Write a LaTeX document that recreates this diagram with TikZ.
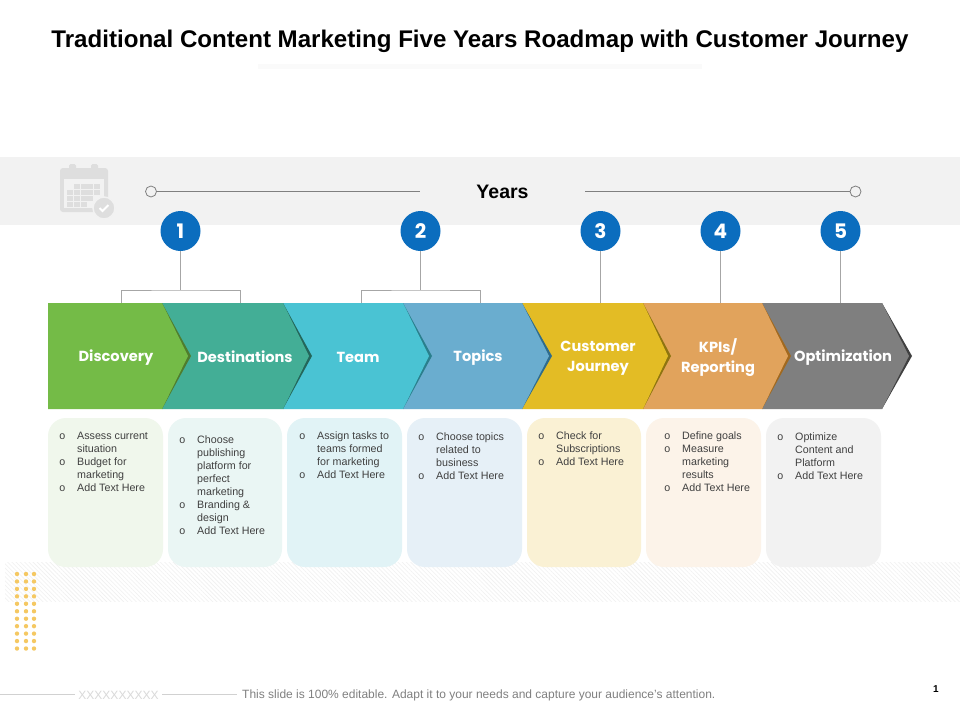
\documentclass[tikz,border=0pt]{standalone}
\usepackage{fontspec}
\setmainfont{Liberation Sans}
\newfontfamily\chevfont{Poppins}
\usetikzlibrary{patterns.meta}
\definecolor{band}{HTML}{F2F2F2}
\definecolor{icon}{HTML}{DEDEDE}
\definecolor{conn}{HTML}{A6A6A6}
\definecolor{blue1}{HTML}{0B6DBE}
\definecolor{bodytxt}{HTML}{404040}
\definecolor{dotc}{HTML}{F5C862}
\definecolor{c1}{HTML}{74BB47}\definecolor{d1}{HTML}{4F7D2E}
\definecolor{c2}{HTML}{43AE96}\definecolor{d2}{HTML}{24665A}
\definecolor{c3}{HTML}{4AC3D3}\definecolor{d3}{HTML}{2A7F8C}
\definecolor{c4}{HTML}{6AADCF}\definecolor{d4}{HTML}{2F6C8C}
\definecolor{c5}{HTML}{E3BC25}\definecolor{d5}{HTML}{8E7410}
\definecolor{c6}{HTML}{E1A35C}\definecolor{d6}{HTML}{A1691F}
\definecolor{c7}{HTML}{7F7F7F}\definecolor{d7}{HTML}{404040}
\definecolor{k1}{HTML}{F0F7EC}
\definecolor{k2}{HTML}{EAF6F4}
\definecolor{k3}{HTML}{E1F3F6}
\definecolor{k4}{HTML}{E6F0F7}
\definecolor{k5}{HTML}{FAF1D4}
\definecolor{k6}{HTML}{FCF3E9}
\definecolor{k7}{HTML}{F2F2F2}
\tikzset{
 x=1pt,y=-1pt,
 chevlabel/.style={text=white,align=center,font=\chevfont\fontsize{14.6}{20}\selectfont\bfseries,inner sep=0pt},
 bubble/.style={circle,fill=blue1,minimum size=40pt,inner sep=0pt,text=white,font=\chevfont\fontsize{20}{20}\selectfont\bfseries},
 conline/.style={draw=conn,line width=0.9pt},
 card/.style={rounded corners=18pt},
 cardtext/.style={anchor=north west,align=left,inner sep=0pt,text=bodytxt,font=\fontsize{10.7}{13}\selectfont},
 endcirc/.style={circle,draw=gray,line width=0.8pt,fill=band,minimum size=11pt,inner sep=0pt},
 yline/.style={draw=gray,line width=0.8pt},
 footline/.style={draw=black!18,line width=0.8pt},
}
\newcommand{\bul}{\llap{o\hspace{12pt}}}
% args: left x, shoulder x, tip x, dark tip x, fill, dark
\newcommand{\chev}[6]{%
 \fill[#6] (#2,303) -- (#4,356) -- (#2,409) -- cycle;
 \fill[#5] (#1,303) -- (#2,303) -- (#3,356) -- (#2,409) -- (#1,409) -- cycle;
}
\newcommand{\cardbox}[3]{\fill[#3,card] (#1,418) rectangle (#2,567);}
\begin{document}
\begin{tikzpicture}
\useasboundingbox (0,0) rectangle (960,720);
\fill[white] (0,0) rectangle (960,720);
% title
\fill[black!2] (258,64) rectangle (702,69);
\node[inner sep=0pt,font=\fontsize{24.1}{28}\selectfont\bfseries] (title) at (480,41) {Traditional Content Marketing Five Years Roadmap with Customer Journey};
% band
\fill[band] (0,157) rectangle (960,225);
% calendar icon
\fill[icon,rounded corners=3pt] (60,168) rectangle (108,212);
\fill[icon,rounded corners=1.5pt] (69,164) rectangle (76,174);
\fill[icon,rounded corners=1.5pt] (91,164) rectangle (98,174);
\fill[band] (64,179) rectangle (104,208);
\foreach \r/\a/\b in {186/74/100,192/67/100,198/67/94,204/67/87}{
 \foreach \c in {67,74,81,87,94}{
  \pgfmathparse{(\c>=\a && \c<\b)?1:0}
  \ifnum\pgfmathresult=1 \fill[icon] (\c,\r-2.5) rectangle (\c+5.5,\r+2.5);\fi
 }
}
\fill[icon,draw=band,line width=1.5pt] (104,208) circle (11pt);
\draw[white,line width=1.8pt] (99.5,208) -- (102.5,211) -- (108.5,205);
% year line
\node[endcirc] (ya) at (151,191.5) {};
\node[endcirc] (yb) at (855.5,191.5) {};
\coordinate (yaend) at (420,191.5);
\coordinate (ybend) at (585,191.5);
\draw[yline] (ya) -- (yaend);
\draw[yline] (ybend) -- (yb);
\node[font=\fontsize{19.5}{24}\selectfont\bfseries,inner sep=0pt] (years) at (502.5,192) {Years};
% hatch
\fill[pattern={Lines[angle=-45,distance=3pt,line width=0.6pt]},pattern color=black!6] (5,562) rectangle (960,601);
% dots
\foreach \i in {0,...,10}{
 \foreach \x in {17,26,34}{
  \fill[dotc] (\x,574+\i*7.45) circle (2.2pt);
 }
}
% cards
\cardbox{48}{163}{k1}
\cardbox{168}{282}{k2}
\cardbox{287}{402}{k3}
\cardbox{407}{522}{k4}
\cardbox{527}{641}{k5}
\cardbox{646}{761}{k6}
\cardbox{766}{881}{k7}
\node[cardtext] (t1) at (77,432) {\bul Assess current\\situation\\\bul Budget for\\marketing\\\bul Add Text Here};
\node[cardtext] (t2) at (197,436) {\bul Choose\\publishing\\platform for\\perfect\\marketing\\\bul Branding \&\\design\\\bul Add Text Here};
\node[cardtext] (t3) at (317,432) {\bul Assign tasks to\\teams formed\\for marketing\\\bul Add Text Here};
\node[cardtext] (t4) at (436,433) {\bul Choose topics\\related to\\business\\\bul Add Text Here};
\node[cardtext] (t5) at (556,432) {\bul Check for\\Subscriptions\\\bul Add Text Here};
\node[cardtext] (t6) at (682,432) {\bul Define goals\\\bul Measure\\marketing\\results\\\bul Add Text Here};
\node[cardtext] (t7) at (795,433) {\bul Optimize\\Content and\\Platform\\\bul Add Text Here};
% chevrons (back to front)
\chev{762}{882}{909}{912}{c7}{d7}
\chev{643}{762}{788}{791}{c6}{d6}
\chev{522}{643}{668}{671}{c5}{d5}
\chev{403}{522}{549}{552}{c4}{d4}
\chev{283}{403}{429}{432}{c3}{d3}
\chev{162}{283}{309}{312}{c2}{d2}
\chev{48}{162}{188}{191}{c1}{d1}
\node[chevlabel] (l1) at (116,357.5) {Discovery};
\node[chevlabel] (l2) at (245,357) {Destinations};
\node[chevlabel] (l3) at (358,357) {Team};
\node[chevlabel] (l4) at (478,357.5) {Topics};
\node[chevlabel] (l5) at (598,358.5) {Customer\\Journey};
\node[chevlabel] (l6) at (718,358) {KPIs/\\Reporting};
\node[chevlabel] (l7) at (843,357.5) {Optimization};
% connector anchors
\coordinate (j1) at (180.5,290);
\coordinate (a1) at (121.5,303);
\coordinate (a2) at (240.5,303);
\coordinate (j2) at (420.5,290);
\coordinate (a3) at (361.5,303);
\coordinate (a4) at (480.5,303);
\coordinate (a5) at (600.5,303);
\coordinate (a6) at (720.5,303);
\coordinate (a7) at (840.5,303);
% bubbles
\node[bubble] (b1) at (180.5,231) {1};
\node[bubble] (b2) at (420.5,231) {2};
\node[bubble] (b3) at (600.5,231) {3};
\node[bubble] (b4) at (720.5,231) {4};
\node[bubble] (b5) at (840.5,231) {5};
\draw[conline] (b1) -- (j1);
\draw[conline] (a1) |- (j1) -| (a2);
\draw[conline] (b2) -- (j2);
\draw[conline] (a3) |- (j2) -| (a4);
\draw[conline] (b3) -- (a5);
\draw[conline] (b4) -- (a6);
\draw[conline] (b5) -- (a7);
% footer
\coordinate (f0) at (0,694.5);
\coordinate (f1) at (75,694.5);
\coordinate (f2) at (162,694.5);
\coordinate (f3) at (237,694.5);
\draw[footline] (f0) -- (f1);
\draw[footline] (f2) -- (f3);
\node[inner sep=0pt,text=black!15,font=\fontsize{12}{14}\selectfont] (xx) at (118.5,695) {XXXXXXXXXX};
\node[inner sep=0pt,anchor=west,text=black!50,font=\fontsize{12}{14}\selectfont] (foot) at (242,695.5) {This slide is 100\% editable. Adapt it to your needs and capture your audience's attention.};
\node[inner sep=0pt,font=\fontsize{10}{12}\selectfont\bfseries] (page) at (936,689.5) {1};
\end{tikzpicture}
\end{document}
